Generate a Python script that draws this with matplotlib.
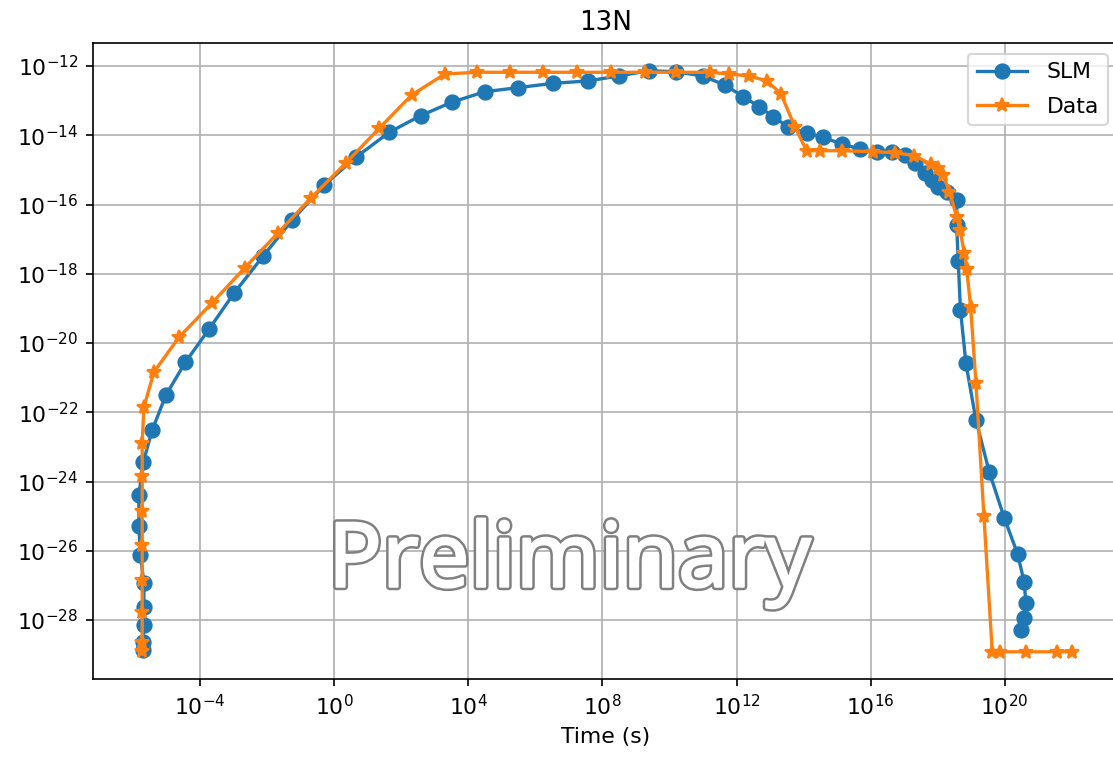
import numpy as np
import matplotlib
matplotlib.use("Agg")
import matplotlib.pyplot as plt
import matplotlib.patheffects as pe

# values, as log10 exponents
slm_logt = [-5.718, -5.718, -5.680, -5.680, -5.680, -5.784, -5.829, -5.829, -5.695,
            -5.432, -5.023, -4.442, -3.740, -2.995, -2.121, -1.255, -0.301, 0.645,
            1.638, 2.575, 3.500, 4.493, 5.469, 6.531, 7.557, 8.482, 9.395, 10.191,
            10.988, 11.653, 12.199, 12.677, 13.094, 13.533, 14.091, 14.586, 15.135,
            15.681, 16.179, 16.626, 17.023, 17.322, 17.620, 17.820, 18.017, 18.276,
            18.566, 18.566, 18.613, 18.679, 18.843, 19.141, 19.538, 19.986, 20.386,
            20.582, 20.633, 20.582, 20.475]
slm_logv = [-28.866, -28.627, -28.144, -27.616, -26.917, -26.123, -25.271, -24.375, -23.428,
            -22.513, -21.502, -20.555, -19.604, -18.565, -17.487, -16.448, -15.437, -14.637,
            -13.915, -13.435, -13.048, -12.742, -12.627, -12.500, -12.433, -12.289, -12.136, -12.165,
            -12.289, -12.549, -12.887, -13.175, -13.464, -13.753, -13.944, -14.059, -14.253,
            -14.397, -14.475, -14.475, -14.570, -14.810, -15.099, -15.292, -15.486, -15.639,
            -15.870, -16.592, -17.617, -19.033, -20.586, -22.224, -23.717, -25.046, -26.094,
            -26.911, -27.518, -27.951, -28.289]

data_logt = [-5.730, -5.730, -5.730, -5.730, -5.730, -5.730, -5.730, -5.730, -5.680,
             -5.381, -4.635, -3.642, -2.666, -1.691, -0.706, 0.338, 1.340, 2.307,
             3.300, 4.246, 5.239, 6.233, 7.229, 8.243, 9.267, 10.191, 11.206, 11.782,
             12.378, 12.897, 13.324, 13.742, 14.091, 14.487, 15.135, 16.078, 16.725,
             17.292, 17.799, 18.008, 18.166, 18.351, 18.566, 18.664, 18.798, 18.864,
             18.983, 19.141, 19.380, 19.628, 19.857, 20.624, 21.549, 22.014]
data_logv = [-28.887, -28.627, -27.760, -26.845, -25.843, -24.843, -23.841, -22.879, -21.857,
             -20.838, -19.835, -18.836, -17.825, -16.832, -15.821, -14.810, -13.799, -12.838,
             -12.231, -12.182, -12.182, -12.182, -12.182, -12.182, -12.182, -12.182, -12.182, -12.231,
             -12.289, -12.425, -12.800, -13.762, -14.446, -14.446, -14.446, -14.475, -14.504,
             -14.585, -14.830, -14.960, -15.162, -15.630, -16.361, -16.736, -17.409, -17.848,
             -18.946, -21.141, -24.996, -28.916, -28.916, -28.916, -28.916, -28.916]

plt.rcParams['font.size'] = 10.5

fig = plt.figure(figsize=(1113/150, 758/150), dpi=150)
ax = fig.add_axes([0.0838, 0.1038, 0.9213, 0.8399])

ax.plot(10.0**np.array(slm_logt), 10.0**np.array(slm_logv), 'o-', ms=6.8, lw=1.6, label='SLM')
ax.plot(10.0**np.array(data_logt), 10.0**np.array(data_logv), '*-', ms=6.8, lw=1.6, label='Data')
ax.set_xscale('log')
ax.set_yscale('log')
ax.set_xlim(10**-7.19, 10**23.4)
ax.set_ylim(10**-29.71, 10**-11.327)
ax.set_xticks([10.0**k for k in range(-4, 21, 4)])
ax.set_yticks([10.0**k for k in range(-28, -11, 2)])
ax.minorticks_off()
ax.grid(True)
ax.legend(loc='upper right', handlelength=2.3, handletextpad=0.9, labelspacing=0.65)
ax.set_title('13N')
ax.set_xlabel('Time (s)')

# watermark: white letters with a grey outline, fattened by a wide stroke
ax.text(0.4645, 0.1455, 'Preliminary', transform=ax.transAxes, ha='center', va='baseline',
        fontsize=43, family='Noto Sans', color='white', zorder=5,
        path_effects=[pe.Stroke(linewidth=3.4, foreground='#808080'),
                      pe.Stroke(linewidth=1.0, foreground='white'),
                      pe.Normal()])

fig.savefig('out.png', dpi=150)
